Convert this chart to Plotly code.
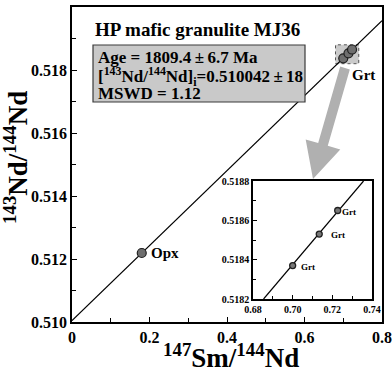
import numpy as np
import plotly.graph_objects as go

# ---- data ----
sample_name = "HP mafic granulite MJ36"
minerals = ["Opx", "Grt", "Grt", "Grt"]
sm_nd = [0.180, 0.700, 0.7134, 0.7227]
nd_nd = [0.51219, 0.51837, 0.51853, 0.51865]
age_ma = 1809.4
age_err = 6.7
nd_initial = 0.510042
nd_initial_err = 18
mswd = 1.12
decay_const = 6.54e-12  # 147Sm decay constant (1/yr)

main_x_range = [0, 0.8]
main_y_range = [0.510, 0.520]
inset_x_range = [0.68, 0.74]
inset_y_range = [0.5182, 0.5188]
main_x_ticks = [0, 0.2, 0.4, 0.6, 0.8]
main_x_labels = ["0", "0.2", "0.4", "0.6", "0.8"]
main_y_ticks = [0.510, 0.512, 0.514, 0.516, 0.518, 0.520]
inset_x_ticks = [0.68, 0.70, 0.72, 0.74]
inset_y_ticks = [0.5182, 0.5184, 0.5186, 0.5188]

slope = np.exp(decay_const * age_ma * 1e6) - 1

FONT = "Liberation Serif"
W, H = 392, 372
ML, MR, MT, MB = 72, 10, 7, 50
PW, PH = W - ML - MR, H - MT - MB


def pxx(px):  # pixel -> paper x
    return (px - ML) / PW


def pxy(py):  # pixel -> paper y
    return (H - MB - py) / PH


fig = go.Figure()

# isochron line (main)
lx = np.array(main_x_range)
fig.add_trace(go.Scatter(x=lx, y=nd_initial + slope * lx, mode="lines",
                         line=dict(color="black", width=1.2), showlegend=False,
                         hoverinfo="skip", xaxis="x", yaxis="y"))
# isochron line (inset)
ix = np.array([(inset_y_range[0] - nd_initial) / slope, (inset_y_range[1] - nd_initial) / slope])
fig.add_trace(go.Scatter(x=ix, y=nd_initial + slope * ix, mode="lines",
                         line=dict(color="black", width=1.2), showlegend=False,
                         hoverinfo="skip", xaxis="x2", yaxis="y2"))

# main points
fig.add_trace(go.Scatter(x=sm_nd, y=nd_nd, mode="markers",
                         marker=dict(size=9, color="#6e6e6e", line=dict(color="#202020", width=1.2)),
                         showlegend=False, xaxis="x", yaxis="y"))
# inset points (garnets)
grt_x = [x for x, m in zip(sm_nd, minerals) if m == "Grt"]
grt_y = [y for y, m in zip(nd_nd, minerals) if m == "Grt"]
fig.add_trace(go.Scatter(x=grt_x, y=grt_y, mode="markers",
                         marker=dict(size=6, color="#777777", line=dict(color="#202020", width=1.3)),
                         showlegend=False, xaxis="x2", yaxis="y2"))
for gx, gy, sh in zip(grt_x, grt_y, [6, 10, 2]):
    fig.add_annotation(x=gx, y=gy, xref="x2", yref="y2", text="Grt", showarrow=False,
                       xanchor="left", xshift=sh, yshift=-1,
                       font=dict(family=FONT, size=9, color="black", weight="bold"))

# dotted highlight box around garnets in main plot
fig.add_shape(type="rect", xref="x", yref="y",
              x0=inset_x_range[0], x1=inset_x_range[1], y0=inset_y_range[0], y1=inset_y_range[1],
              fillcolor="rgba(150,150,150,0.5)", line=dict(color="#555555", width=1, dash="dot"),
              layer="below")

# gray arrow (pixel polygon -> paper coords)
start = np.array([345.0, 68.0]); tip = np.array([313.0, 179.0])
u = (tip - start) / np.linalg.norm(tip - start)
p = np.array([-u[1], u[0]])
base = tip - 36 * u
pts = [start + 5 * p, base + 5 * p, base + 18 * p, tip, base - 18 * p, base - 5 * p, start - 5 * p]
path = "M " + " L ".join("%f,%f" % (pxx(q[0]), pxy(q[1])) for q in pts) + " Z"
fig.add_shape(type="path", xref="paper", yref="paper", path=path,
              fillcolor="#b0b0b0", line=dict(width=0))

# info box
fig.add_shape(type="rect", xref="paper", yref="paper",
              x0=pxx(93), x1=pxx(305), y0=pxy(102), y1=pxy(45),
              fillcolor="#c9c9c9", line=dict(color="#3a3a3a", width=1.2))
pm = "\u2009\u00b1\u2009"
info_lines = ["Age = %.1f%s%.1f Ma" % (age_ma, pm, age_err),
              "[<sup>143</sup>Nd/<sup>144</sup>Nd]<sub>i</sub>=%.6f%s%d" % (nd_initial, pm, nd_initial_err),
              "MSWD = %.2f" % mswd]
for line, py in zip(info_lines, [58, 76, 93]):
    fig.add_annotation(x=pxx(96), y=pxy(py), xref="paper", yref="paper", text=line,
                       showarrow=False, xanchor="left", yanchor="middle",
                       font=dict(family=FONT, size=17, color="black", weight="bold"))

# labels
fig.add_annotation(x=sm_nd[0], y=nd_nd[0], xref="x", yref="y", text="Opx", showarrow=False,
                   xanchor="left", xshift=7, font=dict(family=FONT, size=15, color="black", weight="bold"))
fig.add_annotation(x=pxx(350), y=pxy(75), xref="paper", yref="paper", text="Grt", showarrow=False,
                   xanchor="left", yanchor="middle",
                   font=dict(family=FONT, size=15, color="black", weight="bold"))
fig.add_annotation(x=pxx(93), y=pxy(30), xref="paper", yref="paper", text=sample_name, showarrow=False,
                   xanchor="left", yanchor="middle",
                   font=dict(family=FONT, size=19, color="black", weight="bold"))

# axis titles
fig.add_annotation(x=pxx(231), y=pxy(356), xref="paper", yref="paper",
                   text="<sup>147</sup>Sm/<sup>144</sup>Nd", showarrow=False,
                   xanchor="center", yanchor="middle",
                   font=dict(family=FONT, size=27, color="black", weight="bold"))
fig.add_annotation(x=pxx(16), y=pxy(158), xref="paper", yref="paper",
                   text="<sup>143</sup>Nd/<sup>144</sup>Nd", showarrow=False, textangle=-90,
                   xanchor="center", yanchor="middle",
                   font=dict(family=FONT, size=27, color="black", weight="bold"))

axis_common = dict(showgrid=False, zeroline=False, showline=True, linecolor="black",
                   mirror=True, ticks="inside", tickcolor="black", automargin=False)

fig.update_layout(
    width=W, height=H, margin=dict(l=ML, r=MR, t=MT, b=MB),
    paper_bgcolor="white", plot_bgcolor="white", showlegend=False,
    xaxis=dict(**axis_common, range=main_x_range, tickvals=main_x_ticks, ticktext=main_x_labels,
               linewidth=1.6, ticklen=5, tickwidth=1.2,
               minor=dict(ticks="inside", dtick=0.1, ticklen=4, tickcolor="black", tickwidth=1),
               tickfont=dict(family=FONT, size=16, color="black", weight="bold"),
               domain=[0, 1]),
    yaxis=dict(**axis_common, range=main_y_range, tickvals=main_y_ticks, tickformat=".3f",
               linewidth=1.6, ticklen=5, tickwidth=1.2,
               minor=dict(ticks="inside", dtick=0.001, ticklen=4, tickcolor="black", tickwidth=1),
               tickfont=dict(family=FONT, size=16, color="black", weight="bold"),
               domain=[0, 1]),
    xaxis2=dict(**axis_common, range=inset_x_range, tickvals=inset_x_ticks, tickformat=".2f",
                linewidth=1.5, ticklen=4, tickwidth=1, anchor="y2",
                minor=dict(ticks="inside", dtick=0.01, ticklen=3, tickcolor="black"),
                tickfont=dict(family=FONT, size=10, color="black", weight="bold"),
                domain=[pxx(253), pxx(372)]),
    yaxis2=dict(**axis_common, range=inset_y_range, tickvals=inset_y_ticks, tickformat=".4f",
                linewidth=1.5, ticklen=4, tickwidth=1, anchor="x2",
                minor=dict(ticks="inside", dtick=0.0001, ticklen=3, tickcolor="black"),
                tickfont=dict(family=FONT, size=10, color="black", weight="bold"),
                domain=[pxy(299), pxy(181)]),
)

fig.write_html("out.html", config={"displayModeBar": False},
               post_script="document.body.style.margin='0';document.body.style.padding='0';")
